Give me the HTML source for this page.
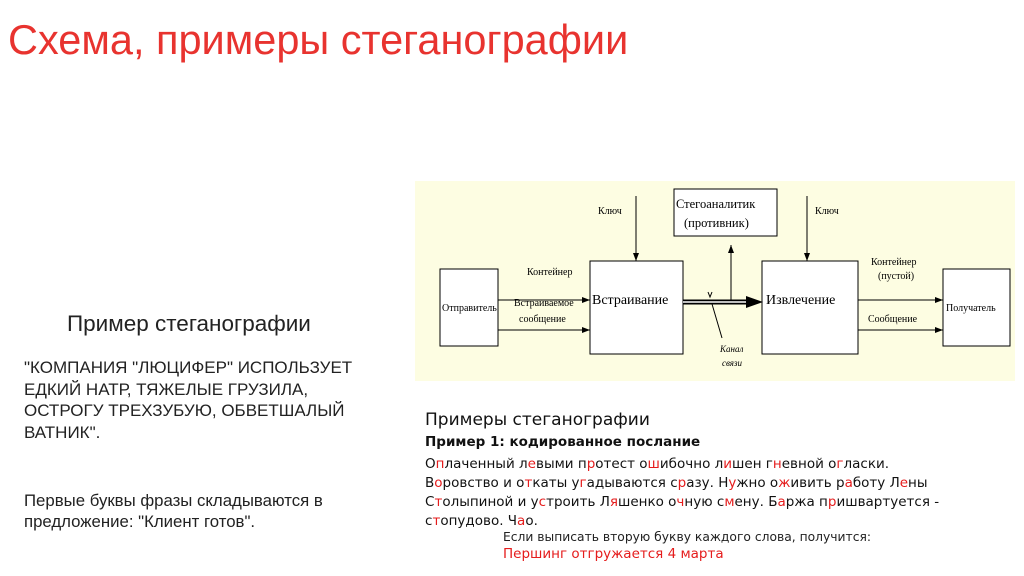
<!DOCTYPE html>
<html><head><meta charset="utf-8"><style>
body{margin:0;width:1024px;height:576px;background:#fff;position:relative;overflow:hidden;font-family:"Liberation Sans","DejaVu Sans",sans-serif}
.a{position:absolute;white-space:nowrap}
.r{color:#e51c1c}
.s{font-family:"DejaVu Sans","Liberation Sans",sans-serif}
</style></head><body>
<div class="a r" style="left:8px;top:16px;font-size:41.5px;color:#e8332f">Схема, примеры стеганографии</div>
<div class="a" style="left:67px;top:311px;font-size:22.5px;color:#222">Пример стеганографии</div>
<div class="a" style="left:24px;top:357px;font-size:17px;line-height:21.5px;color:#222">"КОМПАНИЯ "ЛЮЦИФЕР" ИСПОЛЬЗУЕТ<br>ЕДКИЙ НАТР, ТЯЖЕЛЫЕ ГРУЗИЛА,<br>ОСТРОГУ ТРЕХЗУБУЮ, ОБВЕТШАЛЫЙ<br>ВАТНИК".</div>
<div class="a" style="left:24px;top:490px;font-size:16.8px;line-height:21px;color:#222">Первые буквы фразы складываются в<br>предложение: "Клиент готов".</div>

<svg class="a" style="left:415px;top:181px" width="600" height="200" viewBox="415 181 600 200">
<defs><marker id="m" markerWidth="8" markerHeight="6" refX="8" refY="3" orient="auto"><path d="M0,0L8,3L0,6z" fill="#000"/></marker></defs>
<rect x="415" y="181" width="600" height="200" fill="#fdfde2"/>
<g fill="#fff" stroke="#000" stroke-width="1">
<rect x="440" y="269" width="58" height="77"/>
<rect x="590" y="261" width="93" height="93"/>
<rect x="674" y="189" width="103" height="47"/>
<rect x="762" y="261" width="96" height="93"/>
<rect x="943" y="269" width="67" height="77"/>
</g>
<g stroke="#000" stroke-width="1" marker-end="url(#m)">
<line x1="636" y1="196" x2="636" y2="261"/>
<line x1="807" y1="196" x2="807" y2="261"/>
<line x1="498" y1="300" x2="590" y2="300"/>
<line x1="498" y1="330" x2="590" y2="330"/>
<line x1="858" y1="300" x2="943" y2="300"/>
<line x1="858" y1="330" x2="943" y2="330"/>
<line x1="731" y1="300" x2="731" y2="245"/>
</g>
<line x1="683" y1="302" x2="752" y2="302" stroke="#000" stroke-width="5"/>
<line x1="683" y1="302" x2="752" y2="302" stroke="#fff" stroke-width="1.5"/>
<path d="M746,296L763,302L746,308z" fill="#000"/>
<line x1="712" y1="304" x2="722" y2="338" stroke="#000"/>
<path d="M708,292l2,5l2,-5" stroke="#000" fill="none"/>
<g font-family="Liberation Serif,serif" fill="#000" font-size="10">
<text x="598" y="214">Ключ</text><text x="815" y="214">Ключ</text>
<text x="527" y="275">Контейнер</text>
<text x="514" y="306">Встраиваемое</text><text x="519" y="322">сообщение</text>
<text x="442" y="311">Отправитель</text>
<text x="871" y="265">Контейнер</text><text x="878" y="279">(пустой)</text>
<text x="868" y="322">Сообщение</text>
<text x="946" y="311">Получатель</text>
<text x="720" y="352" font-style="italic" font-size="9">Канал</text>
<text x="722" y="366" font-style="italic" font-size="9">связи</text>
<text x="592" y="304" font-size="14">Встраивание</text>
<text x="766" y="304" font-size="14">Извлечение</text>
<text x="676" y="208" font-size="12.5">Стегоаналитик</text>
<text x="684" y="227" font-size="12.5">(противник)</text>
</g>
</svg>

<div class="a s" style="left:425px;top:410px;font-size:17px;color:#111">Примеры стеганографии</div>
<div class="a s" style="left:425px;top:434px;font-size:13.5px;font-weight:bold;color:#111">Пример 1: кодированное послание</div>
<div class="a s" style="left:425px;top:455px;font-size:13.5px;line-height:19px;color:#111">О<span class="r">п</span>лаченный л<span class="r">е</span>выми п<span class="r">р</span>отест о<span class="r">ш</span>ибочно л<span class="r">и</span>шен г<span class="r">н</span>евной о<span class="r">г</span>ласки.<br>В<span class="r">о</span>ровство и о<span class="r">т</span>каты у<span class="r">г</span>адываются с<span class="r">р</span>азу. Н<span class="r">у</span>жно о<span class="r">ж</span>ивить р<span class="r">а</span>боту Л<span class="r">е</span>ны<br>С<span class="r">т</span>олыпиной и у<span class="r">с</span>троить Л<span class="r">я</span>шенко о<span class="r">ч</span>ную с<span class="r">м</span>ену. Б<span class="r">а</span>ржа п<span class="r">р</span>ишвартуется -<br>с<span class="r">т</span>опудово. Ч<span class="r">а</span>о.</div>
<div class="a s" style="left:503px;top:530px;font-size:12.3px;color:#222">Если выписать вторую букву каждого слова, получится:</div>
<div class="a s r" style="left:503px;top:546px;font-size:13.5px">Першинг отгружается 4 марта</div>
</body></html>
